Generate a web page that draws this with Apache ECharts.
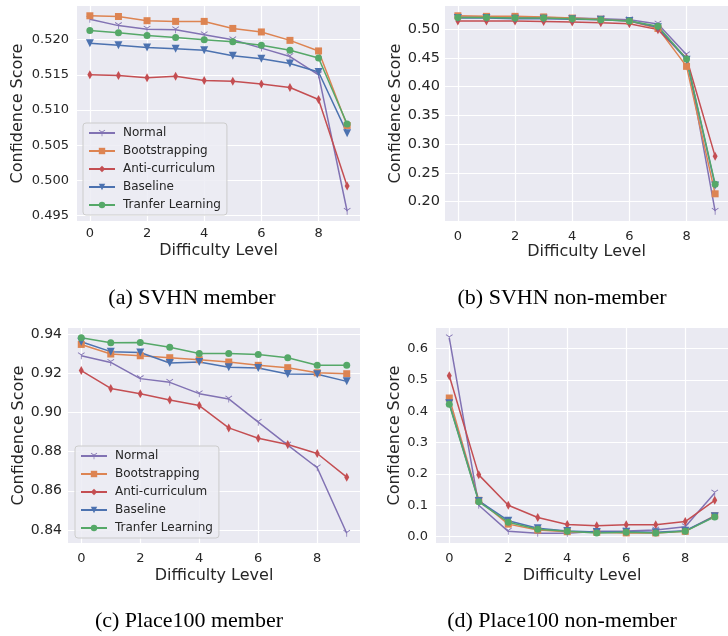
<!DOCTYPE html>
<html><head><meta charset="utf-8">
<script src="https://cdn.jsdelivr.net/npm/echarts@6/dist/echarts.min.js"></script>
<style>html,body{margin:0;padding:0;background:#fff;overflow:hidden}#c{width:728px;height:636px}</style>
</head><body><div id="c"></div><script>
// ---- data ----
const levels = [0, 1, 2, 3, 4, 5, 6, 7, 8, 9];
const xTicks = [0, 2, 4, 6, 8];
const seriesNames = ['Normal', 'Bootstrapping', 'Anti-curriculum', 'Baseline', 'Tranfer Learning'];

// (a) SVHN member
const svhnMemNormal = [0.5229, 0.5220, 0.5215, 0.5214, 0.5207, 0.5200, 0.5188, 0.5176, 0.5150, 0.4956];
const svhnMemBoot   = [0.5234, 0.5233, 0.5227, 0.5226, 0.5226, 0.5216, 0.5211, 0.5199, 0.5184, 0.5078];
const svhnMemAnti   = [0.5150, 0.5149, 0.5146, 0.5148, 0.5142, 0.5141, 0.5137, 0.5132, 0.5115, 0.4992];
const svhnMemBase   = [0.5195, 0.5192, 0.5189, 0.5187, 0.5185, 0.5177, 0.5173, 0.5166, 0.5154, 0.5067];
const svhnMemTrans  = [0.5213, 0.5210, 0.5206, 0.5203, 0.5200, 0.5197, 0.5192, 0.5185, 0.5174, 0.5080];

// (b) SVHN non-member
const svhnNonNormal = [0.521, 0.521, 0.521, 0.520, 0.519, 0.518, 0.516, 0.5086, 0.4552, 0.1831];
const svhnNonBoot   = [0.523, 0.522, 0.522, 0.521, 0.519, 0.517, 0.514, 0.501, 0.435, 0.2134];
const svhnNonAnti   = [0.514, 0.514, 0.514, 0.513, 0.512, 0.511, 0.509, 0.4989, 0.449, 0.2785];
const svhnNonBase   = [0.519, 0.519, 0.518, 0.518, 0.517, 0.516, 0.514, 0.503, 0.4466, 0.228];
const svhnNonTrans  = [0.520, 0.520, 0.519, 0.519, 0.518, 0.516, 0.514, 0.5046, 0.448, 0.2302];

// (c) Place100 member
const placeMemNormal = [0.9291, 0.9257, 0.9174, 0.9155, 0.9097, 0.9070, 0.8951, 0.8834, 0.8718, 0.8383];
const placeMemBoot   = [0.9349, 0.9300, 0.9291, 0.9281, 0.9271, 0.9259, 0.9242, 0.9230, 0.9204, 0.9199];
const placeMemAnti   = [0.9215, 0.9124, 0.9097, 0.9065, 0.9036, 0.8922, 0.8869, 0.8837, 0.8791, 0.8670];
const placeMemBase   = [0.9363, 0.9312, 0.9308, 0.9254, 0.9259, 0.9232, 0.9228, 0.9198, 0.9196, 0.9160];
const placeMemTrans  = [0.9383, 0.9357, 0.9359, 0.9334, 0.9303, 0.9303, 0.9298, 0.9281, 0.9242, 0.9242];

// (d) Place100 non-member
const placeNonNormal = [0.634, 0.100, 0.017, 0.011, 0.011, 0.017, 0.018, 0.021, 0.032, 0.139];
const placeNonBoot   = [0.442, 0.116, 0.040, 0.021, 0.016, 0.014, 0.012, 0.012, 0.017, 0.067];
const placeNonAnti   = [0.513, 0.197, 0.100, 0.061, 0.039, 0.035, 0.038, 0.038, 0.048, 0.116];
const placeNonBase   = [0.425, 0.114, 0.051, 0.027, 0.018, 0.015, 0.016, 0.014, 0.019, 0.065];
const placeNonTrans  = [0.422, 0.111, 0.046, 0.024, 0.017, 0.012, 0.014, 0.012, 0.017, 0.063];

// tick labels
const yTicksA = [0.495, 0.500, 0.505, 0.510, 0.515, 0.520];
const yTicksB = [0.20, 0.25, 0.30, 0.35, 0.40, 0.45, 0.50];
const yTicksC = [0.84, 0.86, 0.88, 0.90, 0.92, 0.94];
const yTicksD = [0.0, 0.1, 0.2, 0.3, 0.4, 0.5, 0.6];
const captions = ['(a) SVHN member', '(b) SVHN non-member', '(c) Place100 member', '(d) Place100 non-member'];
const xTitle = 'Difficulty Level';
const yTitle = 'Confidence Score';

// ---- chart ----
const panels = [
  {data: [svhnMemNormal, svhnMemBoot, svhnMemAnti, svhnMemBase, svhnMemTrans], ticks: yTicksA, dec: 3,
   grid: {left: 77, top: 6, width: 283, height: 215}, yGap: 51, xGap: 22, yFont: 13, yMargin: 8, xMargin: 6,
   legend: {left: 83, top: 123}},
  {data: [svhnNonNormal, svhnNonBoot, svhnNonAnti, svhnNonBase, svhnNonTrans], ticks: yTicksB, dec: 2,
   grid: {left: 445, top: 6, width: 291, height: 215}, yGap: 41, xGap: 22, yFont: 14.5, yMargin: 5, xMargin: 9},
  {data: [placeMemNormal, placeMemBoot, placeMemAnti, placeMemBase, placeMemTrans], ticks: yTicksC, dec: 2,
   grid: {left: 68, top: 328, width: 292, height: 215}, yGap: 41, xGap: 25, yFont: 14, yMargin: 6, xMargin: 9,
   legend: {left: 75, top: 446}},
  {data: [placeNonNormal, placeNonBoot, placeNonAnti, placeNonBase, placeNonTrans], ticks: yTicksD, dec: 1,
   grid: {left: 436, top: 328, width: 300, height: 215}, yGap: 33, xGap: 25, yFont: 13, yMargin: 8, xMargin: 9}
];

const colors = ['#8172B3', '#DD8452', '#C44E52', '#4C72B0', '#55A868'];
const triDown = 'path://M9,10L11,10L11,20L9,20Z M9.5,9.134L18.16,4.134L19.16,5.866L10.5,10.866Z M9.5,10.866L0.84,5.866L1.84,4.134L10.5,9.134Z';
const symbols = [
  {symbol: triDown, symbolSize: [7, 7], symbolRotate: 0},
  {symbol: 'rect', symbolSize: 7, symbolRotate: 0},
  {symbol: 'diamond', symbolSize: [5, 9], symbolRotate: 0},
  {symbol: 'triangle', symbolSize: 8, symbolRotate: 180},
  {symbol: 'circle', symbolSize: 7, symbolRotate: 0}
];
const FONT = 'DejaVu Sans';
const TXT = '#262626';

const grids = [], xAxes = [], yAxes = [], series = [], legends = [];
panels.forEach((p, pi) => {
  grids.push(Object.assign({show: true, backgroundColor: '#EAEAF2', borderWidth: 0}, p.grid));
  let lo = Infinity, hi = -Infinity;
  p.data.forEach(a => a.forEach(v => { lo = Math.min(lo, v); hi = Math.max(hi, v); }));
  const pad = (hi - lo) * 0.05;
  xAxes.push({
    type: 'value', gridIndex: pi, min: -0.45, max: 9.45,
    axisLine: {show: false},
    axisTick: {show: false, customValues: xTicks},
    axisLabel: {customValues: xTicks, color: TXT, fontFamily: FONT, fontSize: 13, margin: p.xMargin},
    splitLine: {show: true, lineStyle: {color: '#ffffff', width: 1.2}},
    name: xTitle, nameLocation: 'middle', nameGap: p.xGap,
    nameTextStyle: {color: TXT, fontFamily: FONT, fontSize: 16}
  });
  yAxes.push({
    type: 'value', gridIndex: pi, min: lo - pad, max: hi + pad,
    axisLine: {show: false},
    axisTick: {show: false, customValues: p.ticks},
    axisLabel: {customValues: p.ticks, color: TXT, fontFamily: FONT, fontSize: p.yFont, margin: p.yMargin,
      formatter: v => Number(v).toFixed(p.dec)},
    splitLine: {show: true, lineStyle: {color: '#ffffff', width: 1.2}},
    name: yTitle, nameLocation: 'middle', nameGap: p.yGap,
    nameTextStyle: {color: TXT, fontFamily: FONT, fontSize: 16}
  });
  p.data.forEach((arr, si) => {
    series.push(Object.assign({
      type: 'line', name: seriesNames[si], xAxisIndex: pi, yAxisIndex: pi,
      data: levels.map((x, j) => [x, arr[j]]),
      showAllSymbol: true, animation: false, clip: true,
      lineStyle: {width: 1.5, color: colors[si]},
      itemStyle: {color: colors[si]},
      emphasis: {disabled: true}
    }, symbols[si]));
  });
  if (p.legend) {
    legends.push({
      left: p.legend.left, top: p.legend.top, orient: 'vertical',
      data: seriesNames, itemWidth: 26, itemHeight: 8, itemGap: 4,
      padding: [3, 6, 3, 5],
      backgroundColor: 'rgba(236,236,243,0.85)', borderColor: '#cccccc', borderWidth: 1, borderRadius: 3,
      textStyle: {color: TXT, fontFamily: FONT, fontSize: 12, lineHeight: 14, padding: [0, 0, 0, 3]},
      selectedMode: false
    });
  }
});

const capPos = [[192, 298], [562, 298], [189, 621], [562, 621]];
const graphics = captions.map((t, i) => ({
  type: 'text', silent: true,
  style: {text: t, x: capPos[i][0], y: capPos[i][1], textAlign: 'center', textVerticalAlign: 'middle',
    font: '22px "Liberation Serif"', fill: '#000000'}
}));

const chart = echarts.init(document.getElementById('c'), null, {renderer: 'canvas'});
chart.setOption({
  animation: false,
  backgroundColor: '#ffffff',
  grid: grids, xAxis: xAxes, yAxis: yAxes, series: series, legend: legends, graphic: graphics
});
</script></body></html>
